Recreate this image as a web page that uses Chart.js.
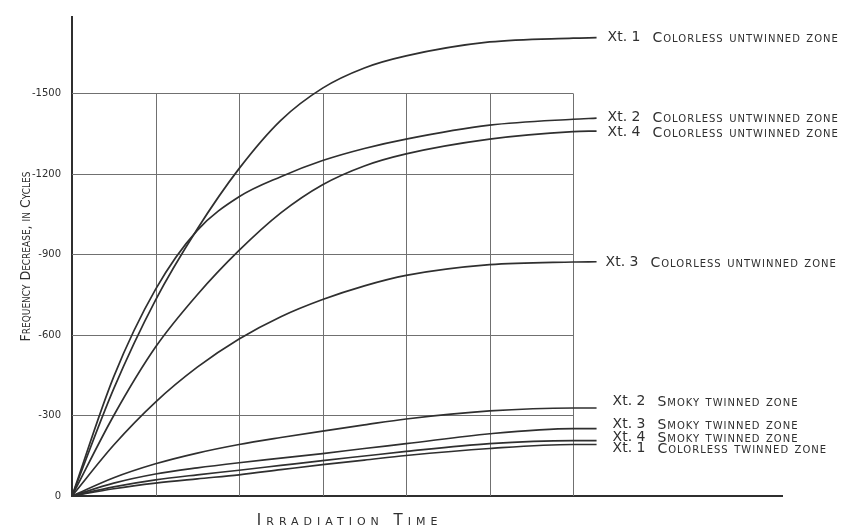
<!DOCTYPE html>
<html>
<head>
<meta charset="utf-8">
<script src="https://cdn.jsdelivr.net/npm/chart.js@4.4.0/dist/chart.umd.min.js"></script>
<style>
  html, body { margin: 0; padding: 0; background: #fff; }
</style>
</head>
<body>
<canvas id="chart" width="854" height="528"></canvas>
<script>
// irradiation time in grid divisions (the hand-drawn plot has no x numbers)
const irradiationTime = [0, 0.5, 1, 1.5, 2, 2.5, 3, 3.5, 4, 5, 6, 6.28];

// frequency decrease, in cycles
const xt1Colorless = [0, -400, -730, -995, -1220, -1400, -1520, -1595, -1640, -1692, -1706, -1708];
const xt2Colorless = [0, -445, -770, -990, -1115, -1190, -1250, -1295, -1330, -1382, -1404, -1408];
const xt4Colorless = [0, -300, -555, -750, -915, -1055, -1160, -1230, -1275, -1330, -1358, -1360];
const xt3Colorless = [0, -190, -350, -480, -585, -668, -732, -783, -822, -862, -872, -873];
const xt2Smoky = [0, -68, -120, -160, -192, -218, -242, -265, -287, -317, -328, -328];
const xt3Smoky = [0, -48, -82, -105, -124, -141, -158, -177, -195, -232, -251, -251];
const xt4Smoky = [0, -34, -60, -79, -96, -114, -132, -149, -166, -195, -206, -206];
const xt1Twinned = [0, -27, -48, -64, -79, -98, -117, -134, -151, -177, -192, -192];

const crystalNames = ['Xt. 1', 'Xt. 2', 'Xt. 4', 'Xt. 3', 'Xt. 2', 'Xt. 3', 'Xt. 4', 'Xt. 1'];
const zoneNames = [
  'Colorless untwinned zone', 'Colorless untwinned zone', 'Colorless untwinned zone',
  'Colorless untwinned zone', 'Smoky twinned zone', 'Smoky twinned zone',
  'Smoky twinned zone', 'Colorless twinned zone'
];
const yTickValues = [0, -300, -600, -900, -1200, -1500];
const xGridValues = [0, 1, 2, 3, 4, 5, 6];

const allSeries = [xt1Colorless, xt2Colorless, xt4Colorless, xt3Colorless,
  xt2Smoky, xt3Smoky, xt4Smoky, xt1Twinned];

// where each hand-lettered label sits relative to the end of its curve
const labelShift = [[11, 0], [11, -1], [11, 1], [9, 1], [16, -7], [16, -4], [16, -3], [16, 4]];

const ink = '#2f2f2f';
const handFont = '"DejaVu Sans"';

const gridAndLabels = {
  id: 'gridAndLabels',
  beforeDatasetsDraw(chart) {
    const { ctx, scales: { x, y } } = chart;
    ctx.save();
    ctx.strokeStyle = '#707070';
    ctx.lineWidth = 1;
    const x0 = x.getPixelForValue(0), x6 = x.getPixelForValue(6);
    const yTop = y.getPixelForValue(-1500), yBot = y.getPixelForValue(0);
    xGridValues.slice(1).forEach((v) => {
      const px = Math.round(x.getPixelForValue(v)) + 0.5;
      ctx.beginPath(); ctx.moveTo(px, yTop); ctx.lineTo(px, yBot); ctx.stroke();
    });
    yTickValues.slice(1).forEach((v) => {
      const py = Math.round(y.getPixelForValue(v)) + 0.5;
      ctx.beginPath(); ctx.moveTo(x0, py); ctx.lineTo(x6, py); ctx.stroke();
    });
    ctx.restore();
  },
  afterDatasetsDraw(chart) {
    const { ctx, chartArea, scales: { x } } = chart;
    ctx.save();
    ctx.fillStyle = ink;
    ctx.textBaseline = 'middle';
    ctx.textAlign = 'left';
    chart.data.datasets.forEach((ds, i) => {
      const pts = chart.getDatasetMeta(i).data;
      const end = pts[pts.length - 1];
      const lx = end.x + labelShift[i][0];
      const ly = end.y + labelShift[i][1];
      ctx.letterSpacing = '0px';
      ctx.font = '14px ' + handFont;
      ctx.fillText(crystalNames[i], lx, ly);
      const w = ctx.measureText(crystalNames[i]).width;
      ctx.letterSpacing = '1px';
      ctx.font = 'small-caps 14px ' + handFont;
      ctx.fillText(zoneNames[i], lx + w + 12, ly + 1);
    });

    // axis titles, hand lettered in small capitals
    ctx.letterSpacing = '5px';
    ctx.font = 'small-caps 15px ' + handFont;
    ctx.textAlign = 'center';
    ctx.fillText('Irradiation Time', x.getPixelForValue(3.3) + 2, 521);

    ctx.letterSpacing = '0px';
    ctx.font = 'small-caps 14px "DejaVu Sans Condensed", ' + handFont;
    ctx.translate(26, (chartArea.top + chartArea.bottom) / 2);
    ctx.rotate(-Math.PI / 2);
    ctx.fillText('Frequency Decrease, in Cycles', 0, 0);
    ctx.restore();
  }
};

new Chart(document.getElementById('chart'), {
  type: 'line',
  data: {
    datasets: allSeries.map((values, i) => ({
      label: crystalNames[i] + ' ' + zoneNames[i],
      data: values.map((v, k) => ({ x: irradiationTime[k], y: v })),
      borderColor: ink,
      borderWidth: 1.7,
      pointRadius: 0,
      fill: false,
      cubicInterpolationMode: 'monotone'
    }))
  },
  options: {
    responsive: false,
    animation: false,
    devicePixelRatio: 1,
    layout: { padding: { left: 0, right: 72, top: 12, bottom: 32 } },
    plugins: { legend: { display: false }, tooltip: { enabled: false } },
    scales: {
      x: {
        type: 'linear',
        min: 0,
        max: 8.5,
        grid: { display: false, drawTicks: false },
        border: { display: true, color: ink, width: 2 },
        ticks: { display: false },
        afterFit: (axis) => { axis.height = 0; }
      },
      y: {
        type: 'linear',
        min: -1785,
        max: 0,
        reverse: true,
        grid: { display: false, drawTicks: false },
        border: { display: true, color: ink, width: 2 },
        afterBuildTicks: (axis) => { axis.ticks = yTickValues.map((v) => ({ value: v })); },
        ticks: {
          color: ink,
          padding: 11,
          font: { family: 'DejaVu Sans', size: 10 },
          callback: (v) => String(v)
        },
        afterFit: (axis) => { axis.width = 72; }
      }
    }
  },
  plugins: [gridAndLabels]
});
</script>
</body>
</html>
